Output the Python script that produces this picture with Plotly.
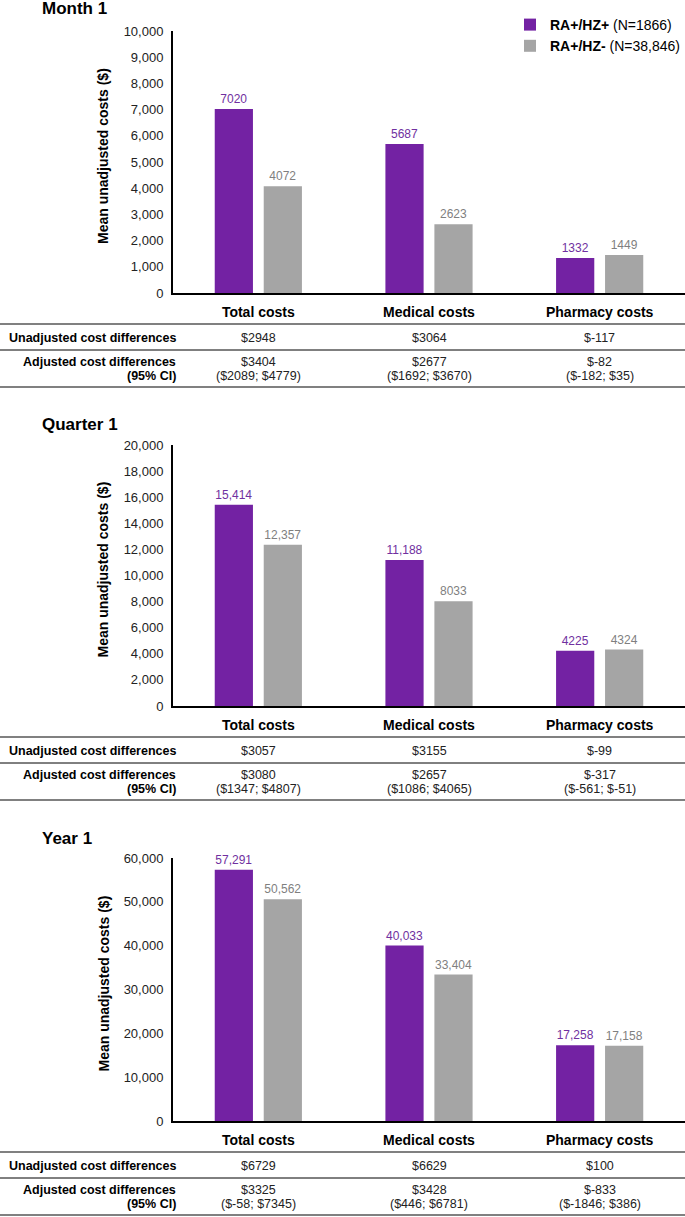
import plotly.graph_objects as go

# ---------------- data ----------------
categories = ["Total costs", "Medical costs", "Pharmacy costs"]
series_names = ["<b>RA+/HZ+</b> (N=1866)", "<b>RA+/HZ-</b> (N=38,846)"]

month1_hzpos = [7020, 5687, 1332]
month1_hzneg = [4072, 2623, 1449]
quarter1_hzpos = [15414, 11188, 4225]
quarter1_hzneg = [12357, 8033, 4324]
year1_hzpos = [57291, 40033, 17258]
year1_hzneg = [50562, 33404, 17158]

month1_unadj = ["$2948", "$3064", "$-117"]
month1_adj = ["$3404", "$2677", "$-82"]
month1_ci = ["($2089; $4779)", "($1692; $3670)", "($-182; $35)"]
quarter1_unadj = ["$3057", "$3155", "$-99"]
quarter1_adj = ["$3080", "$2657", "$-317"]
quarter1_ci = ["($1347; $4807)", "($1086; $4065)", "($-561; $-51)"]
year1_unadj = ["$6729", "$6629", "$100"]
year1_adj = ["$3325", "$3428", "$-833"]
year1_ci = ["($-58; $7345)", "($446; $6781)", "($-1846; $386)"]

panel_titles = ["Month 1", "Quarter 1", "Year 1"]
y_max = [10000, 20000, 60000]
y_dtick = [1000, 2000, 10000]

# ---------------- style ----------------
W, H = 685, 1217
PURPLE = "#7322A3"
GRAY = "#A5A5A5"
PURPLE_TXT = "#7030A0"
GRAY_TXT = "#7F7F7F"
FONT = "Arial, Liberation Sans, sans-serif"


def py(px):
    return 1 - px / H


def pxx(px):
    return px / W


# panel geometry (pixel positions)
dom_top = [31, 445, 858]
dom_bot = [293, 706, 1121]
title_y = [8, 424, 838]
cat_y = [310, 723, 1138]

data = [
    (month1_hzpos, month1_hzneg, month1_unadj, month1_adj, month1_ci),
    (quarter1_hzpos, quarter1_hzneg, quarter1_unadj, quarter1_adj, quarter1_ci),
    (year1_hzpos, year1_hzneg, year1_unadj, year1_adj, year1_ci),
]


def fmt(v):
    return f"{v:,}" if v >= 10000 else str(v)


fig = go.Figure()
annotations = []
shapes = []

for i, (pos, neg, unadj, adj, ci) in enumerate(data):
    xa = "x" if i == 0 else f"x{i+1}"
    ya = "y" if i == 0 else f"y{i+1}"
    for vals, name, col, tcol in [(pos, series_names[0], PURPLE, PURPLE_TXT),
                                  (neg, series_names[1], GRAY, GRAY_TXT)]:
        fig.add_trace(go.Bar(
            x=list(range(len(categories))), y=vals, name=name,
            marker=dict(color=col, line=dict(width=0)),
            text=[fmt(v) for v in vals], textposition="outside",
            textfont=dict(color=tcol, size=12, family=FONT),
            constraintext="none", cliponaxis=False,
            xaxis=xa, yaxis=ya, showlegend=(i == 0),
            hoverinfo="skip",
        ))
    xk = "xaxis" if i == 0 else f"xaxis{i+1}"
    yk = "yaxis" if i == 0 else f"yaxis{i+1}"
    fig.layout[xk] = dict(
        domain=[pxx(173), 1], anchor=ya, range=[-0.5, 2.5],
        tickvals=list(range(len(categories))),
        ticktext=[f"<b>{c}</b>" for c in categories],
        tickfont=dict(size=14, color="#000", family=FONT),
        ticks="", ticklabelstandoff=5,
        showline=True, linecolor="#000", linewidth=2,
        showgrid=False, zeroline=False, fixedrange=True, automargin=False,
    )
    fig.layout[yk] = dict(
        domain=[py(dom_bot[i]), py(dom_top[i])], anchor=xa,
        range=[0, y_max[i]], dtick=y_dtick[i], tickformat=",d",
        tickfont=dict(size=13, color="#222", family=FONT),
        ticks="", ticklabelstandoff=5,
        showline=True, linecolor="#000", linewidth=2,
        showgrid=False, zeroline=False, fixedrange=True, automargin=False,
    )
    # panel title
    annotations.append(dict(
        text=f"<b>{panel_titles[i]}</b>", xref="paper", yref="paper",
        x=pxx(40), y=py(title_y[i]), xanchor="left", yanchor="middle",
        showarrow=False, font=dict(size=17, color="#000", family=FONT)))
    # y-axis title
    annotations.append(dict(
        text="<b>Mean unadjusted costs ($)</b>", xref="paper", yref="paper",
        x=pxx(103), y=py((dom_top[i] + dom_bot[i]) / 2 - 6), textangle=-90,
        xanchor="center", yanchor="middle", showarrow=False,
        font=dict(size=14, color="#000", family=FONT)))
    c = cat_y[i]
    # table lines
    for yy, colr, wd in [(c + 14, "#808080", 2), (c + 40, "#000", 1), (c + 77, "#808080", 2)]:
        shapes.append(dict(type="line", xref="paper", yref="paper",
                           x0=0, x1=1, y0=py(yy), y1=py(yy),
                           line=dict(color=colr, width=wd)))
    # row labels
    for txt, yy in [("<b>Unadjusted cost differences</b>", c + 28),
                    ("<b>Adjusted cost differences</b>", c + 52),
                    ("<b>(95% CI)</b>", c + 66)]:
        annotations.append(dict(
            text=txt, xref="paper", yref="paper", x=pxx(178), y=py(yy),
            xanchor="right", yanchor="middle", showarrow=False,
            font=dict(size=12.5, color="#000", family=FONT)))
    # row values
    for k in range(len(categories)):
        for txt, yy in [(unadj[k], c + 28), (adj[k], c + 52), (ci[k], c + 66)]:
            annotations.append(dict(
                text=txt, xref=xa, yref="paper", x=k, y=py(yy),
                xanchor="center", yanchor="middle", showarrow=False,
                font=dict(size=12.5, color="#222", family=FONT)))

fig.update_layout(
    width=W, height=H, margin=dict(l=0, r=0, t=0, b=0, autoexpand=False),
    paper_bgcolor="white", plot_bgcolor="white",
    barmode="group", bargap=0.426, bargroupgap=0.22,
    font=dict(family=FONT),
    showlegend=True,
    legend=dict(x=pxx(510), xanchor="left", y=py(9), yanchor="top",
                font=dict(size=14, color="#000", family=FONT),
                bgcolor="rgba(0,0,0,0)", tracegroupgap=0,
                itemwidth=30),
    annotations=annotations, shapes=shapes,
)

fig.write_html("out.html", config={"displayModeBar": False},
               post_script="document.body.style.margin='0';document.body.style.padding='0';")
